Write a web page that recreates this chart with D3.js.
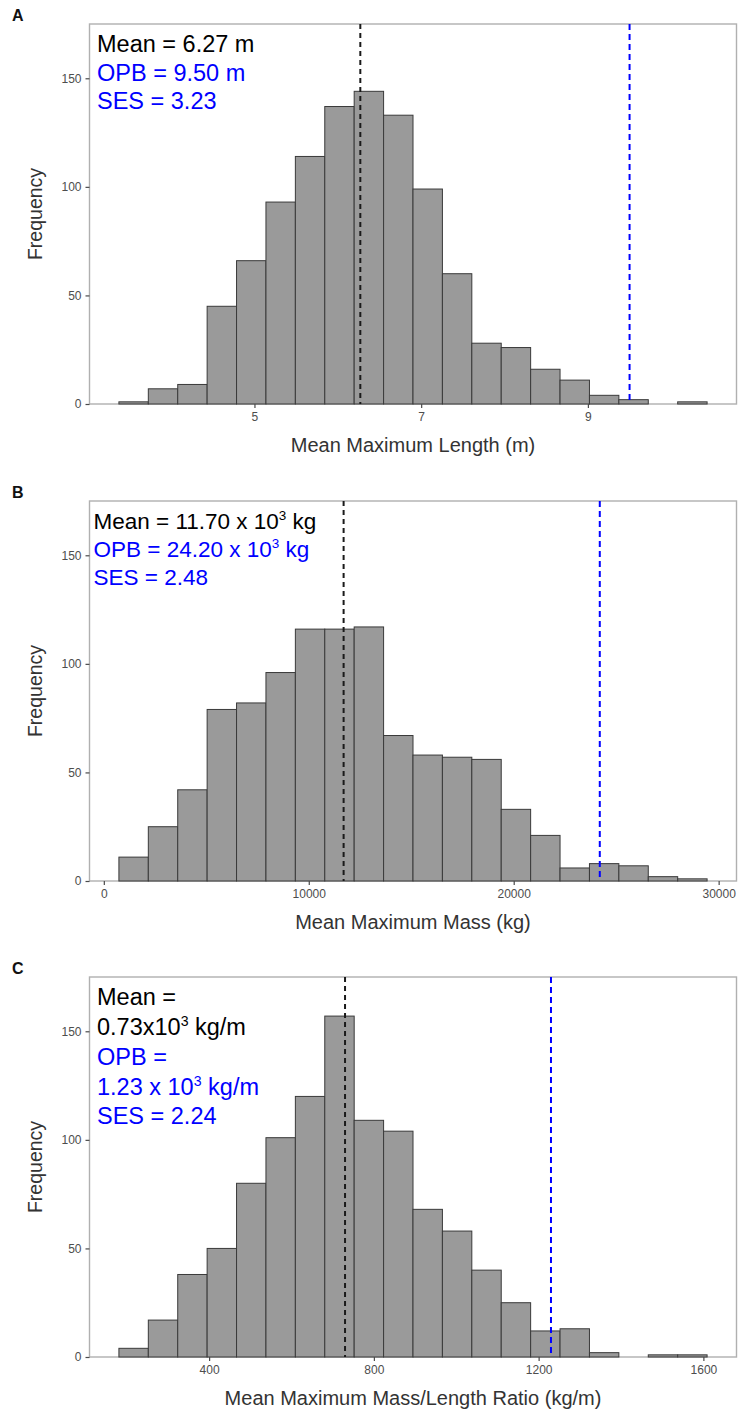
<!DOCTYPE html>
<html>
<head>
<meta charset="utf-8">
<script src="https://cdn.jsdelivr.net/npm/d3@7"></script>
<style>
  body { margin: 0; background: #fff; }
  svg { display: block; }
  text { font-family: "Liberation Sans", Arial, Helvetica, sans-serif; }
</style>
</head>
<body>
<svg id="chart" width="740" height="1410"></svg>
<script>
// Null-model distributions (20 bins each) with observed values

// A: mean maximum length (m)
const lengthCounts = [1, 7, 9, 45, 66, 93, 114, 137, 144, 133, 99, 60, 28, 26, 16, 11, 4, 2, 0, 1];
const lengthBinStart = 3.374;
const lengthBinWidth = 0.3528;
const lengthTicks = [5, 7, 9];
const lengthMean = 6.27;
const lengthOPB = 9.50;

// B: mean maximum mass (kg)
const massCounts = [11, 25, 42, 79, 82, 96, 116, 116, 117, 67, 58, 57, 56, 33, 21, 6, 8, 7, 2, 1];
const massBinStart = 736;
const massBinWidth = 1435;
const massTicks = [0, 10000, 20000, 30000];
const massMean = 11700;
const massOPB = 24200;

// C: mean maximum mass/length ratio (kg/m)
const ratioCounts = [4, 17, 38, 50, 80, 101, 120, 157, 109, 104, 68, 58, 40, 25, 12, 13, 2, 0, 1, 1];
const ratioBinStart = 181;
const ratioBinWidth = 71.4;
const ratioTicks = [400, 800, 1200, 1600];
const ratioMean = 730;
const ratioOPB = 1230;

const frequencyTicks = [0, 50, 100, 150];
const frequencyMax = 175;

const svg = d3.select("#chart");
const plotLeft = 89.5, plotRight = 736.5, plotHeight = 380;
const FONT = '"Liberation Sans", Arial, Helvetica, sans-serif';

const panels = [
  {
    letter: "A", top: 24,
    counts: lengthCounts, start: lengthBinStart, width: lengthBinWidth,
    ticks: lengthTicks, mean: lengthMean, opb: lengthOPB,
    xTitle: "Mean Maximum Length (m)",
    noteX: 97, noteSize: 23.5,
    notes: [
      { color: "#000", dy: 27.7, parts: [{ t: "Mean = 6.27 m" }] },
      { color: "#0000ff", dy: 57, parts: [{ t: "OPB = 9.50 m" }] },
      { color: "#0000ff", dy: 85.3, parts: [{ t: "SES = 3.23" }] }
    ]
  },
  {
    letter: "B", top: 501,
    counts: massCounts, start: massBinStart, width: massBinWidth,
    ticks: massTicks, mean: massMean, opb: massOPB,
    xTitle: "Mean Maximum Mass (kg)",
    noteX: 93.5, noteSize: 22.5,
    notes: [
      { color: "#000", dy: 27.5, parts: [{ t: "Mean = 11.70 x 10" }, { t: "3", sup: true }, { t: " kg" }] },
      { color: "#0000ff", dy: 56, parts: [{ t: "OPB = 24.20 x 10" }, { t: "3", sup: true }, { t: " kg" }] },
      { color: "#0000ff", dy: 84, parts: [{ t: "SES = 2.48" }] }
    ]
  },
  {
    letter: "C", top: 977,
    counts: ratioCounts, start: ratioBinStart, width: ratioBinWidth,
    ticks: ratioTicks, mean: ratioMean, opb: ratioOPB,
    xTitle: "Mean Maximum Mass/Length Ratio (kg/m)",
    noteX: 97, noteSize: 23.5,
    notes: [
      { color: "#000", dy: 28, parts: [{ t: "Mean =" }] },
      { color: "#000", dy: 58, parts: [{ t: "0.73x10" }, { t: "3", sup: true }, { t: " kg/m" }] },
      { color: "#0000ff", dy: 88, parts: [{ t: "OPB =" }] },
      { color: "#0000ff", dy: 117.5, parts: [{ t: "1.23 x 10" }, { t: "3", sup: true }, { t: " kg/m" }] },
      { color: "#0000ff", dy: 147, parts: [{ t: "SES = 2.24" }] }
    ]
  }
];

panels.forEach(drawPanel);

function drawPanel(p) {
  const g = svg.append("g");
  const n = p.counts.length;
  const binEnd = p.start + n * p.width;
  const expand = 0.05 * (binEnd - p.start);
  const bottom = p.top + plotHeight;

  const x = d3.scaleLinear().domain([p.start - expand, binEnd + expand]).range([plotLeft, plotRight]);
  const y = d3.scaleLinear().domain([0, frequencyMax]).range([bottom, p.top]);

  const bins = p.counts.map((c, i) => ({ x0: p.start + i * p.width, x1: p.start + (i + 1) * p.width, c }));

  // panel border
  g.append("rect")
    .attr("x", plotLeft).attr("y", p.top)
    .attr("width", plotRight - plotLeft).attr("height", plotHeight)
    .attr("fill", "none").attr("stroke", "#b0b0b0").attr("stroke-width", 1.4);

  // histogram bars
  g.append("g").selectAll("rect")
    .data(bins.filter(d => d.c > 0))
    .join("rect")
    .attr("x", d => x(d.x0))
    .attr("y", d => y(d.c))
    .attr("width", d => x(d.x1) - x(d.x0))
    .attr("height", d => y(0) - y(d.c))
    .attr("fill", "#9a9a9a")
    .attr("stroke", "#3a3a3a")
    .attr("stroke-width", 1);

  // axes
  const yAxis = g.append("g")
    .attr("transform", `translate(${plotLeft},0)`)
    .call(d3.axisLeft(y).tickValues(frequencyTicks).tickSize(4).tickPadding(4));
  const xAxis = g.append("g")
    .attr("transform", `translate(0,${bottom})`)
    .call(d3.axisBottom(x).tickValues(p.ticks).tickSize(4).tickPadding(4).tickFormat(d3.format("d")));
  [yAxis, xAxis].forEach(a => {
    a.select(".domain").remove();
    a.attr("font-family", FONT).attr("font-size", 12);
    a.selectAll(".tick line").attr("stroke", "#4a4a4a").attr("stroke-width", 1.2);
    a.selectAll(".tick text").attr("fill", "#4d4d4d");
  });

  // mean of null distribution and observed value
  g.append("line")
    .attr("x1", x(p.mean)).attr("x2", x(p.mean))
    .attr("y1", p.top).attr("y2", bottom)
    .attr("stroke", "#1a1a1a").attr("stroke-width", 2)
    .attr("stroke-dasharray", "5,4");
  g.append("line")
    .attr("x1", x(p.opb)).attr("x2", x(p.opb))
    .attr("y1", p.top).attr("y2", bottom)
    .attr("stroke", "#0000ff").attr("stroke-width", 2)
    .attr("stroke-dasharray", "6,4");

  // axis titles
  g.append("text")
    .attr("x", (plotLeft + plotRight) / 2).attr("y", bottom + 48)
    .attr("text-anchor", "middle")
    .attr("font-size", 20).attr("fill", "#333")
    .text(p.xTitle);
  g.append("text")
    .attr("transform", `translate(42,${p.top + plotHeight / 2}) rotate(-90)`)
    .attr("text-anchor", "middle")
    .attr("font-size", 19.5).attr("fill", "#333")
    .text("Frequency");

  // panel letter
  g.append("text")
    .attr("x", 12).attr("y", p.top - 3.5)
    .attr("font-size", 16).attr("font-weight", "bold").attr("fill", "#111")
    .text(p.letter);

  // annotations
  p.notes.forEach(line => {
    const t = g.append("text")
      .attr("x", p.noteX).attr("y", p.top + line.dy)
      .attr("font-size", p.noteSize).attr("fill", line.color);
    let shifted = false;
    line.parts.forEach(part => {
      const ts = t.append("tspan").text(part.t);
      if (part.sup) {
        ts.attr("font-size", p.noteSize * 0.6).attr("dy", -p.noteSize * 0.38);
        shifted = true;
      } else if (shifted) {
        ts.attr("dy", p.noteSize * 0.38);
        shifted = false;
      }
    });
  });
}
</script>
</body>
</html>
